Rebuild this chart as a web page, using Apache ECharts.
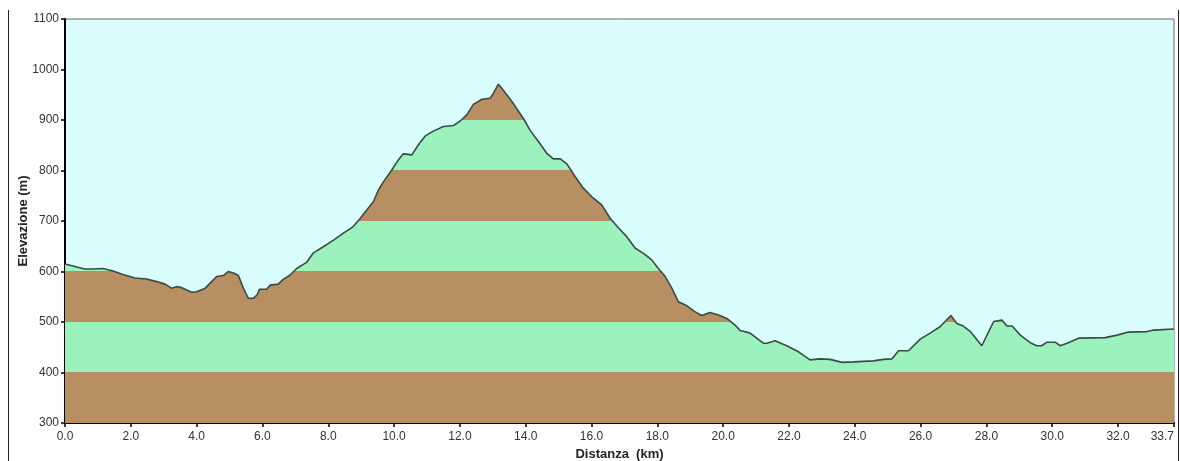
<!DOCTYPE html>
<html>
<head>
<meta charset="utf-8">
<script src="https://cdn.jsdelivr.net/npm/echarts@6/dist/echarts.min.js"></script>
<style>
html,body{margin:0;padding:0;background:#fff;}
#chart{width:1180px;height:461px;}
</style>
</head>
<body>
<div id="chart"></div>
<script>
const distKm = [0.0,0.3,0.6,0.85,1.15,1.46,1.76,2.13,2.48,2.79,3.04,3.24,3.39,3.55,3.85,4.0,4.26,4.41,4.61,4.81,4.96,5.12,5.27,5.42,5.57,5.72,5.83,5.91,6.13,6.23,6.48,6.64,6.84,7.04,7.34,7.55,7.85,8.16,8.46,8.76,8.97,9.17,9.37,9.52,9.68,9.93,10.13,10.28,10.54,10.74,10.94,11.19,11.5,11.8,12.01,12.21,12.41,12.67,12.92,13.02,13.17,13.32,13.62,13.93,14.13,14.39,14.64,14.84,15.05,15.25,15.5,15.75,16.01,16.31,16.57,16.82,17.07,17.33,17.58,17.83,18.03,18.24,18.44,18.64,18.9,19.15,19.35,19.6,19.86,20.11,20.36,20.52,20.82,21.22,21.33,21.58,21.93,22.29,22.64,22.95,23.25,23.61,23.96,24.57,24.87,25.13,25.33,25.63,25.99,26.29,26.6,26.92,27.1,27.3,27.51,27.86,28.22,28.47,28.62,28.78,29.03,29.33,29.53,29.68,29.84,30.09,30.24,30.45,30.8,31.61,31.97,32.32,32.88,33.08,33.7];
const elevM = [615,610,605,605,606,601,594,587,585,580,575,567,570,568,559,560,567,577,590,592,600,597,592,567,547,547,553,565,565,573,575,585,593,606,618,637,649,662,676,689,705,722,738,761,778,801,821,833,831,851,868,878,887,889,898,910,931,941,943,953,971,959,933,903,880,857,834,823,823,813,788,765,748,732,705,686,669,646,636,623,606,590,567,540,532,520,513,519,514,507,494,483,478,458,458,463,453,441,425,427,426,420,421,423,426,427,443,443,466,478,491,513,497,492,481,453,501,504,492,492,474,459,453,453,460,460,453,458,468,469,474,480,481,484,486];
const bandEdges = [300,400,500,600,700,800,900,1000,1100];
const bandColors = ['#b88f63','#9cf2bc'];
const xTitle = 'Distanza  (km)';
const yTitle = 'Elevazione (m)';

const profile = distKm.map((d,i)=>[d, elevM[i]]);
const pieces = [];
for (let i=0;i<bandEdges.length-1;i++){
  pieces.push({gte:bandEdges[i], lt:bandEdges[i+1], color:bandColors[i%2]});
}

const chart = echarts.init(document.getElementById('chart'));
chart.setOption({
  animation:false,
  backgroundColor:'#ffffff',
  grid:{left:65,right:6,top:19,bottom:38,outerBoundsMode:'none',containLabel:false,
    show:true,backgroundColor:'#d9fdfd',borderColor:'#6a6a6a',borderWidth:1},
  xAxis:{
    type:'value',min:0,max:33.7,interval:2,
    name:xTitle,nameLocation:'middle',nameGap:25,nameMoveOverlap:false,
    nameTextStyle:{fontFamily:'Liberation Sans, Arial',fontSize:13,fontWeight:'bold',color:'#222'},
    axisLine:{show:true,lineStyle:{color:'#000',width:2}},
    axisTick:{show:true,length:4,lineStyle:{color:'#000',width:1.5}},
    axisLabel:{fontFamily:'Liberation Sans, Arial',fontSize:12,color:'#333',margin:8,
      showMaxLabel:true,alignMaxLabel:'right',formatter:v=>v.toFixed(1)},
    splitLine:{show:false}
  },
  yAxis:{
    type:'value',min:300,max:1100,interval:100,
    axisLine:{show:true,lineStyle:{color:'#000',width:2}},
    axisTick:{show:true,length:4,lineStyle:{color:'#000',width:1.5}},
    axisLabel:{fontFamily:'Liberation Sans, Arial',fontSize:12,color:'#333',margin:6,formatter:v=>String(v)},
    splitLine:{show:false}
  },
  visualMap:{type:'piecewise',show:false,dimension:1,seriesIndex:0,pieces:pieces},
  series:[
    {type:'line',data:profile,symbol:'none',silent:true,z:1,
      lineStyle:{width:0},areaStyle:{origin:'start',opacity:1}},
    {type:'line',data:profile,symbol:'none',silent:true,z:3,
      lineStyle:{color:'#3b4a44',width:1.6}}
  ],
  graphic:[
    {type:'line',shape:{x1:8.5,y1:10,x2:8.5,y2:461},style:{stroke:'#222',lineWidth:1}},
    {type:'line',shape:{x1:1178.5,y1:10,x2:1178.5,y2:461},style:{stroke:'#222',lineWidth:1}},
    {type:'text',x:23,y:221,rotation:Math.PI/2,
      style:{text:yTitle,fontFamily:'Liberation Sans, Arial',fontSize:13,fontWeight:'bold',fill:'#222',
        align:'center',verticalAlign:'middle'}}
  ]
});
</script>
</body>
</html>
